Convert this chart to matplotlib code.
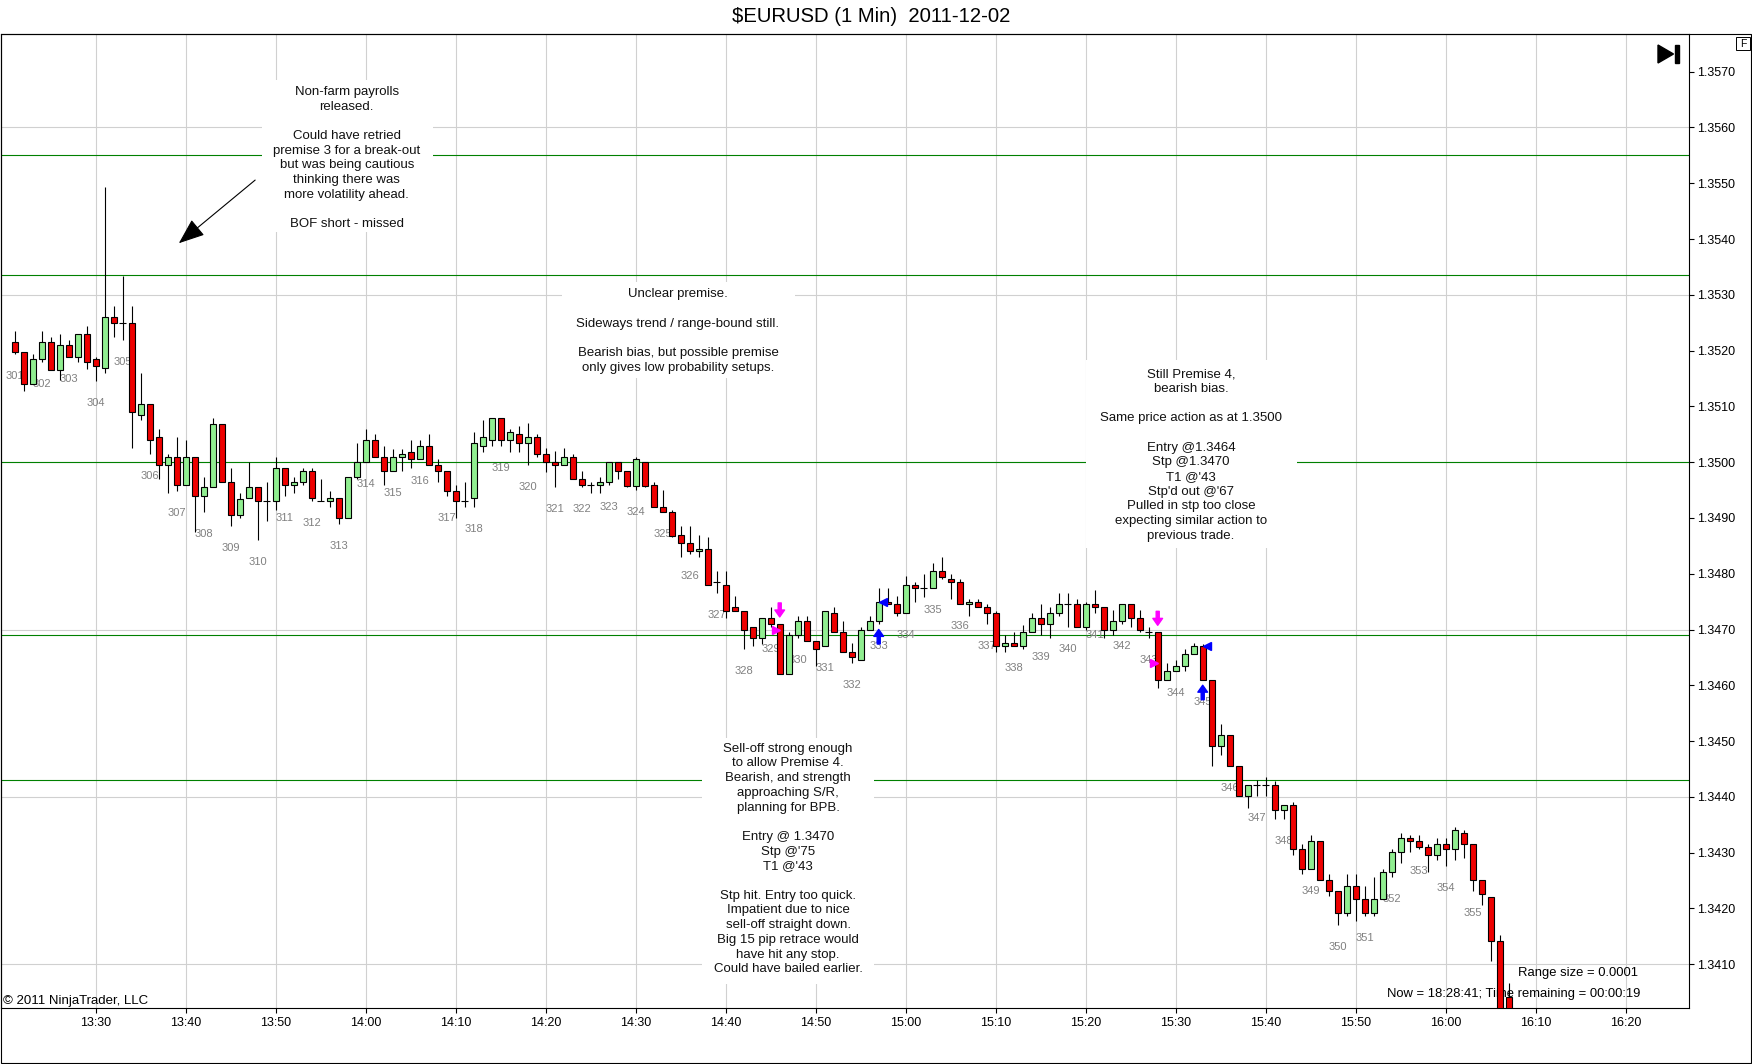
import matplotlib
matplotlib.use("Agg")
import matplotlib.pyplot as plt
from matplotlib.patches import Rectangle, Polygon
from matplotlib.transforms import offset_copy
import numpy as np

plt.rcParams["font.family"] = ["Liberation Sans", "DejaVu Sans"]

W, H = 1752, 1064

# one-minute bars from 13:21 to 16:07 (x = minutes after 13:00)
first_minute = 21

opens = [
    1.35215, 1.35198, 1.35140, 1.35185, 1.35215, 1.35165, 1.35210, 1.35189, 1.35229, 1.35185,
    1.35169, 1.35260, 1.35249, 1.35249, 1.35084, 1.35104, 1.35045, 1.34995, 1.35009, 1.34959,
    1.35009, 1.34940, 1.34955, 1.35069, 1.34964, 1.34905, 1.34935, 1.34955, 1.34930, 1.34930,
    1.34989, 1.34959, 1.34964, 1.34984, 1.34930, 1.34930, 1.34935, 1.34900, 1.34974, 1.35000,
    1.35039, 1.35009, 1.34984, 1.35009, 1.35019, 1.35005, 1.35029, 1.34995, 1.34984, 1.34949,
    1.34930, 1.34935, 1.35029, 1.35039, 1.35079, 1.35039, 1.35050, 1.35034, 1.35045, 1.35014,
    1.35000, 1.34995, 1.35009, 1.34970, 1.34959, 1.34959, 1.34964, 1.35000, 1.34984, 1.34958,
    1.35000, 1.34959, 1.34919, 1.34910, 1.34869, 1.34855, 1.34840, 1.34845, 1.34785, 1.34780,
    1.34740, 1.34734, 1.34704, 1.34685, 1.34720, 1.34710, 1.34620, 1.34690, 1.34715, 1.34680,
    1.34670, 1.34730, 1.34695, 1.34660, 1.34645, 1.34700, 1.34715, 1.34750, 1.34745, 1.34730,
    1.34779, 1.34774, 1.34774, 1.34805, 1.34790, 1.34785, 1.34746, 1.34750, 1.34740, 1.34730,
    1.34670, 1.34675, 1.34671, 1.34695, 1.34720, 1.34710, 1.34729, 1.34746, 1.34746, 1.34704,
    1.34746, 1.34740, 1.34700, 1.34715, 1.34746, 1.34720, 1.34695, 1.34695, 1.34610, 1.34625,
    1.34635, 1.34656, 1.34670, 1.34610, 1.34491, 1.34511, 1.34456, 1.34402, 1.34422, 1.34422,
    1.34422, 1.34377, 1.34385, 1.34306, 1.34271, 1.34321, 1.34251, 1.34232, 1.34192, 1.34241,
    1.34217, 1.34192, 1.34217, 1.34266, 1.34301, 1.34326, 1.34321, 1.34311, 1.34296, 1.34316,
    1.34306, 1.34336, 1.34316, 1.34251, 1.34221, 1.34142, 1.34042,
]
highs = [
    1.35235, 1.35198, 1.35194, 1.35235, 1.35224, 1.35230, 1.35219, 1.35229, 1.35244, 1.35189,
    1.35493, 1.35280, 1.35333, 1.35280, 1.35160, 1.35104, 1.35060, 1.35014, 1.35045, 1.35039,
    1.35009, 1.34974, 1.35079, 1.35069, 1.34989, 1.34944, 1.35000, 1.34955, 1.34964, 1.35009,
    1.34989, 1.34974, 1.34989, 1.34989, 1.34970, 1.34949, 1.34935, 1.34974, 1.35034, 1.35060,
    1.35050, 1.35029, 1.35024, 1.35024, 1.35039, 1.35039, 1.35050, 1.35005, 1.34984, 1.34959,
    1.34964, 1.35054, 1.35075, 1.35079, 1.35079, 1.35060, 1.35064, 1.35070, 1.35050, 1.35025,
    1.35020, 1.35025, 1.35014, 1.34984, 1.34965, 1.34974, 1.35000, 1.35000, 1.34984, 1.35009,
    1.35000, 1.34964, 1.34950, 1.34915, 1.34885, 1.34885, 1.34870, 1.34865, 1.34805, 1.34805,
    1.34760, 1.34734, 1.34704, 1.34720, 1.34740, 1.34710, 1.34695, 1.34725, 1.34725, 1.34680,
    1.34734, 1.34740, 1.34715, 1.34676, 1.34704, 1.34725, 1.34774, 1.34774, 1.34760, 1.34796,
    1.34785, 1.34800, 1.34820, 1.34830, 1.34800, 1.34790, 1.34754, 1.34754, 1.34746, 1.34734,
    1.34690, 1.34695, 1.34708, 1.34730, 1.34746, 1.34740, 1.34765, 1.34765, 1.34755, 1.34750,
    1.34770, 1.34740, 1.34735, 1.34746, 1.34746, 1.34735, 1.34705, 1.34695, 1.34640, 1.34646,
    1.34665, 1.34676, 1.34674, 1.34610, 1.34530, 1.34511, 1.34456, 1.34421, 1.34431, 1.34436,
    1.34428, 1.34385, 1.34391, 1.34316, 1.34332, 1.34321, 1.34262, 1.34232, 1.34262, 1.34262,
    1.34241, 1.34256, 1.34271, 1.34306, 1.34336, 1.34332, 1.34331, 1.34316, 1.34326, 1.34326,
    1.34346, 1.34341, 1.34316, 1.34251, 1.34221, 1.34152, 1.34066,
]
lows = [
    1.35194, 1.35128, 1.35140, 1.35179, 1.35165, 1.35148, 1.35189, 1.35179, 1.35167, 1.35145,
    1.35159, 1.35224, 1.35219, 1.35025, 1.35075, 1.35014, 1.34970, 1.34944, 1.34949, 1.34959,
    1.34875, 1.34910, 1.34955, 1.34964, 1.34885, 1.34900, 1.34935, 1.34861, 1.34895, 1.34915,
    1.34940, 1.34944, 1.34959, 1.34930, 1.34930, 1.34919, 1.34889, 1.34900, 1.34970, 1.35000,
    1.35009, 1.34959, 1.34984, 1.34984, 1.34989, 1.35005, 1.34995, 1.34964, 1.34940, 1.34900,
    1.34919, 1.34919, 1.35019, 1.35029, 1.35029, 1.35019, 1.35019, 1.34995, 1.35009, 1.34983,
    1.34955, 1.34995, 1.34970, 1.34955, 1.34944, 1.34944, 1.34959, 1.34970, 1.34955, 1.34950,
    1.34955, 1.34919, 1.34910, 1.34865, 1.34830, 1.34835, 1.34830, 1.34779, 1.34765, 1.34720,
    1.34734, 1.34665, 1.34670, 1.34674, 1.34704, 1.34620, 1.34620, 1.34685, 1.34680, 1.34634,
    1.34670, 1.34695, 1.34660, 1.34640, 1.34645, 1.34700, 1.34710, 1.34745, 1.34725, 1.34730,
    1.34750, 1.34759, 1.34774, 1.34790, 1.34754, 1.34746, 1.34725, 1.34740, 1.34710, 1.34660,
    1.34660, 1.34670, 1.34665, 1.34695, 1.34690, 1.34684, 1.34725, 1.34705, 1.34704, 1.34700,
    1.34729, 1.34684, 1.34690, 1.34710, 1.34705, 1.34695, 1.34684, 1.34595, 1.34610, 1.34625,
    1.34625, 1.34656, 1.34610, 1.34455, 1.34475, 1.34456, 1.34402, 1.34380, 1.34402, 1.34402,
    1.34360, 1.34360, 1.34296, 1.34262, 1.34271, 1.34251, 1.34222, 1.34171, 1.34187, 1.34177,
    1.34187, 1.34187, 1.34217, 1.34256, 1.34281, 1.34301, 1.34306, 1.34266, 1.34286, 1.34276,
    1.34286, 1.34291, 1.34232, 1.34206, 1.34106, 1.34000, 1.34000,
]
closes = [
    1.35198, 1.35140, 1.35185, 1.35215, 1.35165, 1.35210, 1.35189, 1.35229, 1.35179, 1.35173,
    1.35260, 1.35249, 1.35249, 1.35090, 1.35104, 1.35039, 1.34995, 1.35009, 1.34959, 1.35009,
    1.34940, 1.34955, 1.35069, 1.34964, 1.34905, 1.34934, 1.34955, 1.34930, 1.34930, 1.34989,
    1.34959, 1.34964, 1.34984, 1.34935, 1.34930, 1.34935, 1.34900, 1.34974, 1.35000, 1.35039,
    1.35009, 1.34984, 1.35009, 1.35014, 1.35005, 1.35029, 1.34995, 1.34984, 1.34949, 1.34930,
    1.34930, 1.35034, 1.35045, 1.35079, 1.35039, 1.35054, 1.35034, 1.35045, 1.35014, 1.35000,
    1.34995, 1.35009, 1.34970, 1.34959, 1.34959, 1.34964, 1.35000, 1.34984, 1.34958, 1.35005,
    1.34958, 1.34919, 1.34910, 1.34868, 1.34855, 1.34840, 1.34845, 1.34779, 1.34785, 1.34734,
    1.34734, 1.34700, 1.34685, 1.34720, 1.34710, 1.34620, 1.34690, 1.34715, 1.34680, 1.34665,
    1.34734, 1.34695, 1.34660, 1.34650, 1.34700, 1.34715, 1.34750, 1.34745, 1.34730, 1.34779,
    1.34774, 1.34774, 1.34805, 1.34795, 1.34785, 1.34746, 1.34750, 1.34740, 1.34730, 1.34670,
    1.34675, 1.34670, 1.34695, 1.34720, 1.34710, 1.34729, 1.34746, 1.34746, 1.34704, 1.34746,
    1.34740, 1.34700, 1.34715, 1.34746, 1.34720, 1.34700, 1.34695, 1.34610, 1.34625, 1.34635,
    1.34656, 1.34670, 1.34610, 1.34491, 1.34511, 1.34456, 1.34402, 1.34421, 1.34422, 1.34422,
    1.34377, 1.34385, 1.34306, 1.34271, 1.34321, 1.34251, 1.34232, 1.34192, 1.34241, 1.34217,
    1.34192, 1.34217, 1.34266, 1.34301, 1.34326, 1.34321, 1.34311, 1.34296, 1.34316, 1.34306,
    1.34341, 1.34316, 1.34251, 1.34226, 1.34142, 1.34010, 1.34010,
]

bar_numbers = list(range(301, 356))      # printed under every third bar
sr_levels = [1.3555, 1.35335, 1.3500, 1.3469, 1.3443]
grid_levels = [1.3410, 1.3440, 1.3470, 1.3500, 1.3530, 1.3560]
time_ticks = ["13:30", "13:40", "13:50", "14:00", "14:10", "14:20", "14:30", "14:40", "14:50",
              "15:00", "15:10", "15:20", "15:30", "15:40", "15:50", "16:00", "16:10", "16:20"]

short_times = ["14:46", "15:28"]
entry_prices = [1.3470, 1.3464]
exit_times = ["14:57", "15:33"]
exit_prices = [1.3475, 1.3467]

note_bof = ("Non-farm payrolls\nreleased.\n\nCould have retried\npremise 3 for a break-out\n"
            "but was being cautious\nthinking there was\nmore volatility ahead.\n\nBOF short - missed")
note_unclear = ("Unclear premise.\n\nSideways trend / range-bound still.\n\n"
                "Bearish bias, but possible premise\nonly gives low probability setups.")
note_still = ("Still Premise 4,\nbearish bias.\n\nSame price action as at 1.3500\n\n"
              "Entry @1.3464\nStp @1.3470\nT1 @'43\nStp'd out @'67\nPulled in stp too close\n"
              "expecting similar action to\nprevious trade.")
note_selloff = ("Sell-off strong enough\nto allow Premise 4.\nBearish, and strength\napproaching S/R,\n"
                "planning for BPB.\n\nEntry @ 1.3470\nStp @'75\nT1 @'43\n\nStp hit. Entry too quick.\n"
                "Impatient due to nice\nsell-off straight down.\nBig 15 pip retrace would\n"
                "have hit any stop.\nCould have bailed earlier.")


def to_min(s):
    hh, mm = s.split(":")
    return (int(hh) - 13) * 60 + int(mm)


def fx(px):
    return px / W


def fy(py):
    return 1 - py / H


fig = plt.figure(figsize=(W / 100, H / 100), dpi=100, facecolor="white")
ax = fig.add_axes([fx(0.5), fy(1008.3), fx(1688.2), (1008.3 - 34.3) / H])

o = np.array(opens)
hi = np.array(highs)
lo = np.array(lows)
c = np.array(closes)
x = first_minute + np.arange(len(o))

# grid and support / resistance lines
for lv in grid_levels:
    ax.axhline(lv, color="#d0d0d0", lw=0.8, zorder=0.5)
for t in time_ticks:
    ax.axvline(to_min(t), color="#d0d0d0", lw=0.8, zorder=0.5)
for lv in sr_levels:
    ax.axhline(lv, color="#008000", lw=0.8, zorder=1)

# candles
up = c > o
dn = c < o
flat = c == o
ax.vlines(x, lo, hi, color="black", lw=0.8, zorder=3)
ax.bar(x[up], (c - o)[up], bottom=o[up], width=0.64, color="#90ee90",
       edgecolor="black", linewidth=0.8, zorder=4)
ax.bar(x[dn], (o - c)[dn], bottom=c[dn], width=0.64, color="#ee0000",
       edgecolor="black", linewidth=0.8, zorder=4)
ax.hlines(o[flat], x[flat] - 0.39, x[flat] + 0.39, color="black", lw=0.8, zorder=4)

# bar counter labels
for k, n in enumerate(bar_numbers):
    i = 3 * k
    ax.annotate(str(n), (x[i], lo[i]), xytext=(0, -15.8), textcoords="offset points",
                ha="center", va="center", fontsize=8, color="#808080", zorder=2,
                annotation_clip=True)


def shifted(dx=0, dy=0):
    return offset_copy(ax.transData, fig=fig, x=dx, y=dy, units="dots")


# trade markers
for t, p in zip(short_times, entry_prices):
    i = to_min(t) - first_minute
    ax.annotate("", xy=(x[i], hi[i]), xycoords=shifted(0, 7),
                xytext=(x[i], hi[i]), textcoords=shifted(0, 21),
                arrowprops=dict(facecolor="#ff00ff", edgecolor="#ff00ff", width=2.2,
                                headwidth=7, headlength=5, shrink=0), zorder=5)
    ax.plot(x[i], p, marker=">", color="#ff00ff", ms=5.5, ls="none",
            transform=shifted(-4, 0), zorder=5)
for t, p in zip(exit_times, exit_prices):
    i = to_min(t) - first_minute
    ax.annotate("", xy=(x[i], lo[i]), xycoords=shifted(0, -5.5),
                xytext=(x[i], lo[i]), textcoords=shifted(0, -20),
                arrowprops=dict(facecolor="#0000ff", edgecolor="#0000ff", width=2.2,
                                headwidth=7, headlength=5, shrink=0), zorder=5)
    ax.plot(x[i], p, marker="<", color="#0000ff", ms=5.5, ls="none",
            transform=shifted(4, 0), zorder=5)

# note boxes (white background hides grid and level lines)
notes = [
    (note_bof, 346.7, 158, (262, 80, 433, 232)),
    (note_unclear, 678, 331, (562, 282, 795, 378)),
    (note_still, 1191, 455, (1086, 360, 1297, 548)),
    (note_selloff, 788, 859, (702, 738, 874, 984)),
]
for txt, cx, cy, (x0, y0, x1, y1) in notes:
    ax.add_patch(Rectangle((fx(x0), fy(y1)), fx(x1 - x0), (y1 - y0) / H,
                           transform=fig.transFigure, facecolor="white",
                           edgecolor="none", zorder=1.5))
    ax.text(fx(cx), fy(cy), txt, transform=fig.transFigure, ha="center", va="center",
            multialignment="center", fontsize=9.5, linespacing=1.3, color="#111111",
            zorder=2)

ax.annotate("", xy=(fx(176.7), fy(245)), xycoords=fig.transFigure,
            xytext=(fx(257.3), fy(178.3)), textcoords=fig.transFigure,
            arrowprops=dict(arrowstyle="-|>,head_length=0.9,head_width=0.35",
                            mutation_scale=18, lw=0.8, color="black"), zorder=2)

ax.text(fx(1638), fy(973), "Range size = 0.0001", transform=fig.transFigure,
        ha="right", va="center", fontsize=9.4, zorder=2)
ax.text(fx(1640), fy(994), "Now = 18:28:41; Time remaining = 00:00:19",
        transform=fig.transFigure, ha="right", va="center", fontsize=9.4, zorder=2)
ax.text(fx(3), fy(1000.7), "\u00a9 2011 NinjaTrader, LLC", transform=fig.transFigure,
        ha="left", va="center", fontsize=9.5, zorder=2)

# axes, ticks
ax.set_xlim(19.42, 207.0)
ax.set_ylim(1.34021, 1.35767)
ax.set_xticks([to_min(t) for t in time_ticks])
ax.set_xticklabels(time_ticks)
yt = np.round(np.arange(1.3410, 1.35701, 0.0010), 4)
ax.set_yticks(yt)
ax.set_yticklabels([f"{v:.4f}" for v in yt])
ax.yaxis.tick_right()
ax.tick_params(axis="both", direction="out", length=3.8, width=0.8, labelsize=9,
               colors="black")
ax.tick_params(axis="y", pad=2)
ax.tick_params(axis="x", pad=2.5)
for s in ax.spines.values():
    s.set_linewidth(0.8)
    s.set_color("black")

# title, outer frame and toolbar glyphs
fig.text(fx(870.7), fy(16.7), "$EURUSD (1 Min)  2011-12-02", ha="center", va="center",
         fontsize=14.6)
fig.add_artist(Rectangle((fx(0.5), fy(1062.5)), fx(1750), (1062.5 - 34.3) / H,
                         transform=fig.transFigure, fill=False, lw=0.8, edgecolor="black"))
fig.add_artist(Polygon([(fx(1658), fy(45)), (fx(1658), fy(63)), (fx(1673.5), fy(54))],
                       closed=True, transform=fig.transFigure, color="black"))
fig.add_artist(Rectangle((fx(1675), fy(63)), fx(4), 18 / H, transform=fig.transFigure,
                         color="black"))
fig.add_artist(Rectangle((fx(1736), fy(50)), fx(14), 12.5 / H, transform=fig.transFigure,
                         fill=False, lw=0.7, edgecolor="black"))
fig.text(fx(1743), fy(44), "F", ha="center", va="center", fontsize=7.5)

fig.savefig("out.png", dpi=100)
